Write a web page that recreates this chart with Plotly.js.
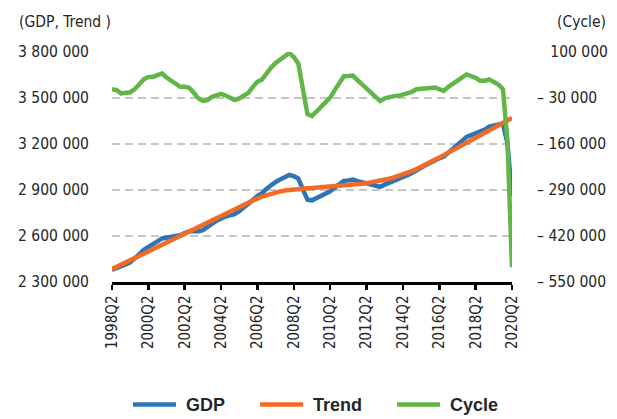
<!DOCTYPE html>
<html>
<head>
<meta charset="utf-8">
<script src="https://cdn.plot.ly/plotly-3.0.1.min.js"></script>
<style>
  html, body { margin: 0; padding: 0; background: #fff; }
  #chart { width: 617px; height: 419px; }
</style>
</head>
<body>
<div id="chart"></div>
<script>
// quarters 1998Q2 .. 2020Q2
var quarters = [];
for (var yr = 1998; yr <= 2020; yr++) {
    for (var qq = 1; qq <= 4; qq++) {
        if (yr == 1998 && qq < 2) continue;
        if (yr == 2020 && qq > 2) continue;
        quarters.push(yr + "Q" + qq);
    }
}

var gdp = [
    2379000, 2390800, 2396300, 2413900, 2428500, 2452200, 2480800, 2509400, 2530700, 2545400,
    2564700, 2584100, 2587600, 2592600, 2597900, 2605000, 2619900, 2631400, 2631900, 2631000,
    2638700, 2655200, 2679100, 2699400, 2716800, 2726700, 2735700, 2742400, 2761400, 2783700,
    2804600, 2834500, 2860800, 2878700, 2907600, 2931700, 2952700, 2969100, 2984800, 2997800,
    2990200, 2974100, 2904500, 2837000, 2832600, 2846700, 2862700, 2874100, 2892000, 2915600,
    2936700, 2959800, 2962800, 2967400, 2957600, 2949900, 2943500, 2936600, 2927600, 2921200,
    2935200, 2947100, 2957200, 2967200, 2981000, 2996500, 3011200, 3031400, 3045300, 3062200,
    3078000, 3094900, 3106600, 3117900, 3145500, 3171500, 3195400, 3221500, 3246400, 3258000,
    3269600, 3277300, 3293400, 3313300, 3320700, 3330900, 3333400, 3204000, 2861500
];

var trend = [
    2384000, 2398600, 2413300, 2427900, 2442500, 2457200, 2471800, 2486400, 2501000, 2515700,
    2530300, 2544900, 2559600, 2574200, 2588800, 2603500, 2618100, 2632700, 2647300, 2662000,
    2676600, 2691200, 2705800, 2720400, 2735000, 2749500, 2764000, 2778400, 2792600, 2806500,
    2820000, 2833000, 2845200, 2856400, 2866600, 2875700, 2883700, 2890500, 2896100, 2900600,
    2904200, 2907100, 2909500, 2911600, 2913600, 2915500, 2917400, 2919300, 2921300, 2923400,
    2925700, 2928200, 2930900, 2933900, 2937200, 2940800, 2944800, 2949200, 2954200, 2959900,
    2966400, 2973700, 2981900, 2991000, 3001000, 3011900, 3023700, 3036400, 3050000, 3064400,
    3079500, 3095200, 3111300, 3127600, 3144000, 3160500, 3177000, 3193500, 3210000, 3226400,
    3242700, 3258900, 3275000, 3291000, 3306900, 3322700, 3338400, 3354000, 3369500
];

var cycle = [
    -5000, -7800, -17000, -14000, -14000, -5000, 9000, 23000, 29700, 29700,
    34400, 39200, 28000, 18400, 9100, 1500, 1800, -1300, -15400, -31000,
    -37900, -36000, -26700, -21000, -18200, -22800, -28300, -36000, -31200, -22800,
    -15400, 1500, 15600, 22300, 41000, 56000, 69000, 78600, 88700, 97200,
    86000, 67000, -5000, -75000, -81000, -68800, -54700, -45200, -29000, -7800,
    11000, 31600, 31900, 33500, 20400, 9100, -1300, -12600, -26600, -38700,
    -31200, -26600, -24700, -23800, -20000, -15400, -12500, -5000, -4700, -2200,
    -1500, -300, -4700, -9700, 1500, 11000, 18400, 28000, 36400, 31600,
    26900, 18400, 18400, 22300, 13800, 8200, -5000, -150000, -508000
];

var xTicks = ["1998Q2", "2000Q2", "2002Q2", "2004Q2", "2006Q2", "2008Q2",
              "2010Q2", "2012Q2", "2014Q2", "2016Q2", "2018Q2", "2020Q2"];
var leftVals = [2300000, 2600000, 2900000, 3200000, 3500000, 3800000];
var leftText = ["2 300 000", "2 600 000", "2 900 000", "3 200 000", "3 500 000", "3 800 000"];
var rightVals = [-550000, -420000, -290000, -160000, -30000, 100000];
var rightText = ["\u2013 550 000", "\u2013 420 000", "\u2013 290 000", "\u2013 160 000", "\u2013 30 000", "\u00a0\u00a0\u00a0100 000"];

var narrow = "DejaVu Sans Condensed, Liberation Sans Narrow, sans-serif";
var txt = "#262626";
// nbsp padding so legend entries sit apart like the original
var sp = "\u00a0", gap = "\u00a0\u00a0\u00a0\u00a0\u00a0";

var data = [
    { x: quarters, y: gdp, name: sp + "GDP" + gap, type: "scatter", mode: "lines",
      line: { color: "#2e75b8", width: 4.5 } },
    { x: quarters, y: trend, name: sp + "Trend" + gap, type: "scatter", mode: "lines",
      line: { color: "#f26a24", width: 4.5 } },
    { x: quarters, y: cycle, name: sp + "Cycle", type: "scatter", mode: "lines", yaxis: "y2",
      line: { color: "#62b547", width: 4.5 } }
];

var layout = {
    width: 617, height: 419,
    margin: { l: 112, r: 105, t: 52, b: 137 },
    paper_bgcolor: "#fff", plot_bgcolor: "#fff",
    font: { family: narrow, color: txt },
    showlegend: true,
    legend: {
        orientation: "h", x: 0.51, xanchor: "center",
        yref: "container", y: 0.034, yanchor: "middle",
        font: { family: "Liberation Sans, Arial, sans-serif", size: 18, weight: "bold", color: txt },
        itemwidth: 43
    },
    xaxis: {
        type: "category", range: [0, quarters.length - 1],
        tickmode: "array", tickvals: xTicks, ticktext: xTicks,
        tickangle: -90, tickfont: { size: 15, color: txt },
        showline: true, linecolor: "#000", linewidth: 2.5,
        ticks: "outside", ticklen: 5, tickwidth: 2.5, tickcolor: "#000",
        showgrid: false, zeroline: false, automargin: false
    },
    yaxis: {
        range: [2300000, 3800000],
        tickmode: "array", tickvals: leftVals, ticktext: leftText,
        tickfont: { size: 15.5, color: txt },
        ticklabelstandoff: 22,
        showgrid: true, gridcolor: "#c6c6c6", gridwidth: 1.5, griddash: "8px,5px",
        zeroline: false, showline: false, ticks: "", automargin: false
    },
    yaxis2: {
        range: [-550000, 100000], overlaying: "y", side: "right",
        tickmode: "array", tickvals: rightVals, ticktext: rightText,
        tickfont: { size: 15.5, color: txt },
        ticklabelstandoff: 24,
        showgrid: false, zeroline: false, showline: false, ticks: "", automargin: false
    },
    annotations: [
        { xref: "paper", yref: "paper", x: -0.238, y: 1.131, xanchor: "left", yanchor: "middle",
          text: "(GDP, Trend )", showarrow: false, font: { size: 15.5, color: txt } },
        { xref: "paper", yref: "paper", x: 1.1075, y: 1.131, xanchor: "left", yanchor: "middle",
          text: "(Cycle)", showarrow: false, font: { size: 15.5, color: txt } }
    ]
};

Plotly.newPlot("chart", data, layout, { displayModeBar: false, staticPlot: true });
</script>
</body>
</html>
